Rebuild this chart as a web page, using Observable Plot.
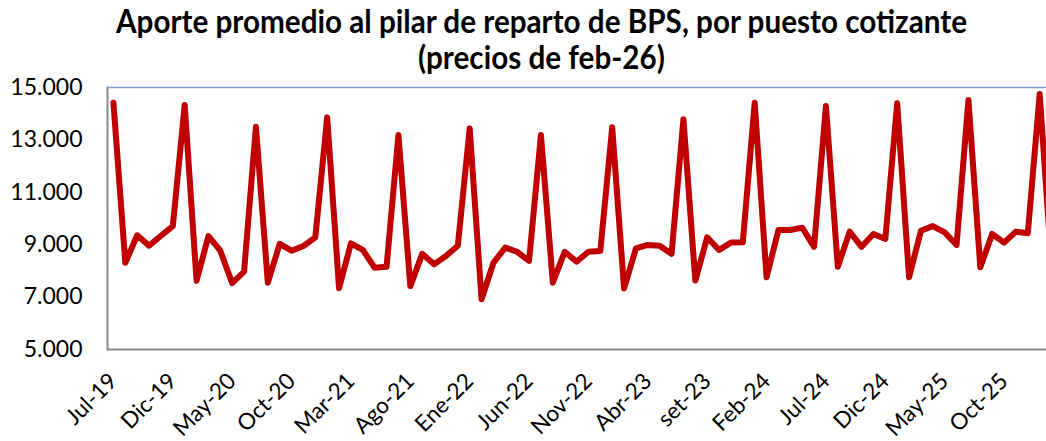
<!DOCTYPE html>
<html><head><meta charset="utf-8">
<script src="https://cdn.jsdelivr.net/npm/d3@7"></script>
<script src="https://cdn.jsdelivr.net/npm/@observablehq/plot@0.6"></script>
<style>
html,body{margin:0;padding:0;background:#fff;overflow:hidden;width:1046px;height:441px}
#title{position:relative;height:72px;width:1046px;font-family:Lato,sans-serif;font-weight:bold;color:#000;font-size:32px}
#title div{position:absolute;left:0;top:0;white-space:nowrap;line-height:1;transform-origin:0 0}
#chart{width:1060px;height:369px;overflow:hidden}
#chart svg{display:block}
</style></head><body>
<div id="title"><div id="t1"></div><div id="t2"></div></div>
<div id="chart"></div>
<script>
const months = [
  "Jul-19","Ago-19","set-19","Oct-19","Nov-19","Dic-19",
  "Ene-20","Feb-20","Mar-20","Abr-20","May-20","Jun-20","Jul-20","Ago-20","set-20","Oct-20","Nov-20","Dic-20",
  "Ene-21","Feb-21","Mar-21","Abr-21","May-21","Jun-21","Jul-21","Ago-21","set-21","Oct-21","Nov-21","Dic-21",
  "Ene-22","Feb-22","Mar-22","Abr-22","May-22","Jun-22","Jul-22","Ago-22","set-22","Oct-22","Nov-22","Dic-22",
  "Ene-23","Feb-23","Mar-23","Abr-23","May-23","Jun-23","Jul-23","Ago-23","set-23","Oct-23","Nov-23","Dic-23",
  "Ene-24","Feb-24","Mar-24","Abr-24","May-24","Jun-24","Jul-24","Ago-24","set-24","Oct-24","Nov-24","Dic-24",
  "Ene-25","Feb-25","Mar-25","Abr-25","May-25","Jun-25","Jul-25","Ago-25","set-25","Oct-25","Nov-25","Dic-25",
  "Ene-26","Feb-26"
];
const aporte = [
  14420, 8310, 9360, 8960, 9340, 9710,
  14330, 7620, 9330, 8770, 7530, 7970, 13500, 7550, 9030, 8770, 8950, 9280,
  13860, 7340, 9050, 8800, 8120, 8160, 13190, 7420, 8650, 8250, 8570, 8960,
  13440, 6920, 8310, 8890, 8730, 8380, 13190, 7550, 8730, 8350, 8730, 8760,
  13480, 7330, 8860, 8990, 8960, 8650, 13790, 7630, 9280, 8800, 9080, 9090,
  14420, 7760, 9560, 9560, 9650, 8920, 14290, 8160, 9500, 8920, 9410, 9220,
  14400, 7760, 9530, 9710, 9470, 8990, 14520, 8140, 9410, 9080, 9500, 9440,
  14750, 8150
];
const tickLabels = ["Jul-19","Dic-19","May-20","Oct-20","Mar-21","Ago-21","Ene-22","Jun-22","Nov-22","Abr-23","set-23","Feb-24","Jul-24","Dic-24","May-25","Oct-25"];
const yTicks = [5000, 7000, 9000, 11000, 13000, 15000];
const title1 = "Aporte promedio al pilar de reparto de BPS, por puesto cotizante";
const title2 = "(precios de feb-26)";

const data = months.map((m, i) => ({mes: m, valor: aporte[i]}));
const fmt = d => d3.format(",")(d).replace(/,/g, ".");

const chart = Plot.plot({
  width: 1060,
  height: 369,
  marginLeft: 107,
  marginRight: 3,
  marginTop: 15,
  marginBottom: 92,
  style: {fontFamily: "Lato, sans-serif", color: "#000", background: "#fff"},
  x: {type: "point", domain: months, padding: 0.5},
  y: {domain: [5000, 15000]},
  marks: [
    Plot.ruleY([15000], {stroke: "#7b9fcc", strokeWidth: 1.5}),
    Plot.ruleY([5000], {stroke: "#888888", strokeWidth: 2}),
    Plot.frame({anchor: "left", stroke: "#888888", strokeWidth: 2}),
    Plot.axisY({ticks: yTicks, tickFormat: fmt, tickSize: 0, tickPadding: 25, fontSize: 23, label: null}),
    Plot.axisX({ticks: tickLabels, tickSize: 0, tickRotate: -45, tickPadding: 28, fontSize: 22.5, label: null}),
    Plot.line(data, {x: "mes", y: "valor", stroke: "#c00000", strokeWidth: 6, strokeLinejoin: "round", strokeLinecap: "round"})
  ]
});
chart.style.maxWidth = "none";
document.getElementById("chart").appendChild(chart);

const t1 = document.getElementById("t1"), t2 = document.getElementById("t2");
t1.textContent = title1; t2.textContent = title2;
const w1 = t1.getBoundingClientRect().width;
const sx = 851 / w1;
const w2 = t2.getBoundingClientRect().width * sx;
t1.style.transform = `scaleX(${sx})`;
t2.style.transform = `scaleX(${sx})`;
t1.style.left = (541 - 851 / 2) + "px";
t2.style.left = (541 - w2 / 2) + "px";
t1.style.top = "5px";
t2.style.top = "41px";
</script>
</body></html>
